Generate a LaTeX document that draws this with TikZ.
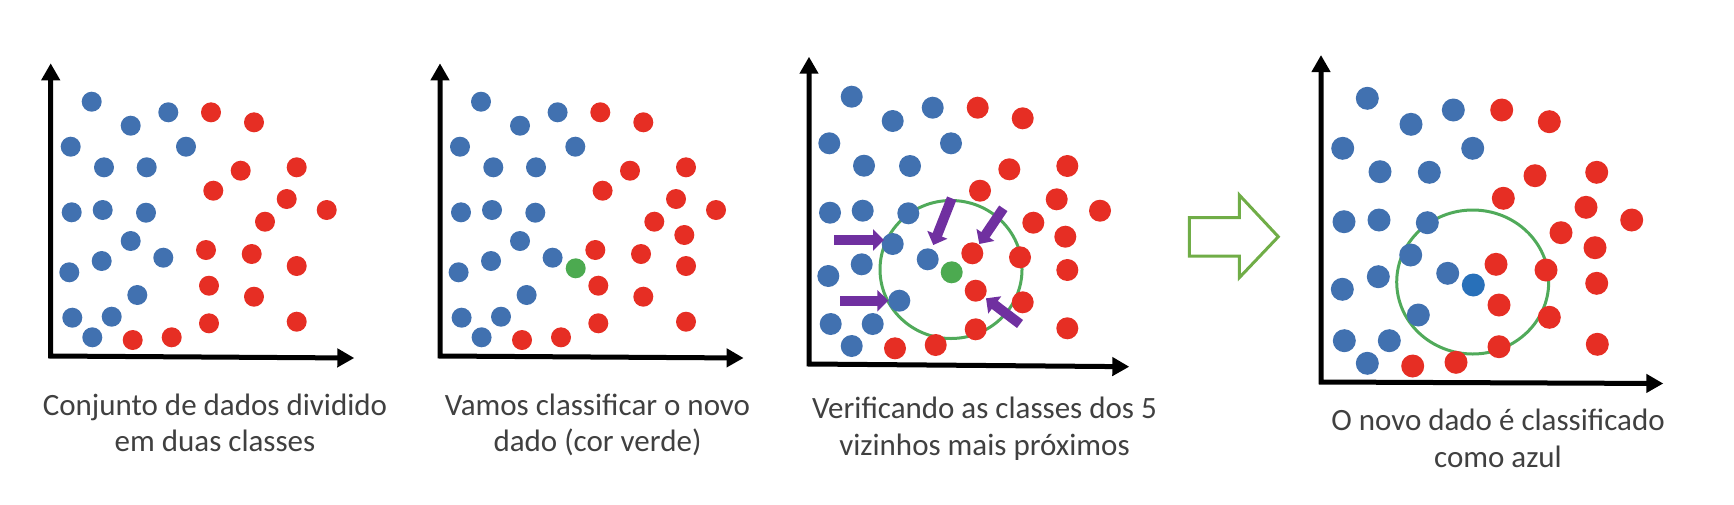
\documentclass[tikz,border=0pt]{standalone}
\usepackage{fontspec}
\setmainfont{Carlito}
\usetikzlibrary{arrows.meta}
\definecolor{dotblue}{RGB}{65,113,176}
\definecolor{dotred}{RGB}{230,46,36}
\definecolor{dotgreen}{RGB}{76,170,80}
\definecolor{newblue}{RGB}{40,112,185}
\definecolor{circgreen}{RGB}{80,170,90}
\definecolor{purp}{RGB}{112,48,160}
\definecolor{arrowgreen}{RGB}{112,173,71}
\definecolor{textgray}{RGB}{64,64,64}
\tikzset{
  axisline/.style={line width=5pt, line join=miter,
    {Triangle[width=18pt,length=17pt]}-{Triangle[width=18pt,length=17pt]}},
  nbarrow/.style={draw=purp, line width=10pt, -{Triangle[width=21pt,length=11pt]}},
  ring/.style={draw=circgreen, line width=3pt},
  caption/.style={text=textgray, align=center, anchor=base,
    font=\fontsize{31}{36.7}\selectfont, inner sep=0pt},
  bigarrow/.style={draw=arrowgreen, line width=3pt, line join=miter}
}
\def\blueA{91.7/101.7, 130.7/125.7, 168.3/112.3, 70.7/146.7, 186/146.7, 104/167.3, 146.7/167.3, 71.7/212.3, 102.7/210, 146/212.7, 130.7/241, 101.7/261, 163.3/257.7, 69.3/272.3, 137.3/295, 72.3/317.7, 111.7/316.7, 92.3/337.3}
\def\redA{211/112.3, 254/122.3, 240.7/170.7, 296.7/167.3, 213.3/190.7, 286.7/199, 326.7/210, 265/221.7, 206/250, 251.7/254, 296.7/266, 209/285.7, 254/296.7, 209/323.3, 296.7/321.7, 132.7/340, 171.7/337.3}
\def\blueC{851.7/96.7, 892.7/121, 932.7/107.7, 829.3/143.3, 951/143.3, 864/165.7, 910/166, 830/212.7, 862.7/210.7, 908.3/213.3, 892.7/244, 861.7/264.3, 927.7/259.3, 828.3/276, 899.3/300.7, 830.7/324, 872.7/324, 851.7/346}
\def\redC{977.7/107.7, 1022.7/118.3, 1009.3/169.3, 1067.3/166, 980/190.7, 1056.7/199.3, 1100/210.7, 1033.3/222.7, 1065.3/236.7, 972.3/253.3, 1020/257.3, 1067.3/270, 975.7/290.7, 1022.7/302.3, 975.7/329.3, 1067.3/328.3, 895/348.3, 935.7/345}
\def\blueD{1367.3/98.3, 1411/124.3, 1453.3/110, 1342.7/148.3, 1472.7/148.3, 1380/171.7, 1429.3/172.3, 1344/221.7, 1379/220, 1427.3/222.7, 1410.7/255, 1378.3/276.7, 1447.7/273.3, 1342.3/289.3, 1418.3/315, 1344.3/340.7, 1389.3/340.7, 1367.3/363.3}
\def\redD{1501.7/110, 1549.3/121.7, 1535/175.7, 1596.7/172.3, 1503.3/198.3, 1586/207.3, 1631.7/220, 1561/232.7, 1595/247.7, 1496/264.3, 1546/270, 1596.7/283.3, 1499/305, 1549.3/317.3, 1499/346.7, 1597.3/344.3, 1412.7/366, 1456/362.3}
\begin{document}
\begin{tikzpicture}[x=1pt, y=-1pt]
\useasboundingbox (0,0) rectangle (1734,504);
% ---------- panel 1
\draw[axisline] (50.7,63.3) -- (50.7,356) -- (354.3,358);
\foreach \x/\y in \blueA {\fill[dotblue] (\x,\y) circle[radius=10pt];}
\foreach \x/\y in \redA {\fill[dotred] (\x,\y) circle[radius=10pt];}
\node[caption] (cap1) at (215,451.7) {Conjunto de dados dividido\\em duas classes};
% ---------- panel 2
\begin{scope}[xshift=389.3pt]
\draw[axisline] (50.7,63.3) -- (50.7,356) -- (354.3,358);
\foreach \x/\y in \blueA {\fill[dotblue] (\x,\y) circle[radius=10pt];}
\foreach \x/\y in \redA {\fill[dotred] (\x,\y) circle[radius=10pt];}
\fill[dotred] (295,235) circle[radius=10pt];
\fill[dotgreen] (186.4,268.3) circle[radius=10pt];
\end{scope}
\node[caption] (cap2) at (597.5,451.7) {Vamos classificar o novo\\dado (cor verde)};
% ---------- panel 3
\draw[axisline] (809,56.7) -- (809,364) -- (1129.3,366.7);
\draw[ring] (951,269.5) ellipse[x radius=71pt, y radius=69pt];
\foreach \x/\y in \blueC {\fill[dotblue] (\x,\y) circle[radius=11pt];}
\foreach \x/\y in \redC {\fill[dotred] (\x,\y) circle[radius=11pt];}
\fill[dotgreen] (951.7,272.3) circle[radius=11pt];
\coordinate (a1s) at (834,240);    \coordinate (a1e) at (884,240);
\coordinate (a2s) at (840,300.7);  \coordinate (a2e) at (888.3,300.7);
\coordinate (a3s) at (951.7,198.3);\coordinate (a3e) at (933.3,245);
\coordinate (a4s) at (1003.3,208.3);\coordinate (a4e) at (979.3,244);
\coordinate (a5s) at (1020,324);   \coordinate (a5e) at (986,298.3);
\draw[nbarrow] (a1s) -- (a1e);
\draw[nbarrow] (a2s) -- (a2e);
\draw[nbarrow] (a3s) -- (a3e);
\draw[nbarrow] (a4s) -- (a4e);
\draw[nbarrow] (a5s) -- (a5e);
\node[caption] (cap3) at (984.5,455) {Verificando as classes dos 5\\vizinhos mais próximos};
% ---------- transition arrow
\draw[bigarrow] (1189.3,217.7) -- (1239.3,217.7) -- (1239.3,195) -- (1278.3,236.7)
  -- (1239.3,277.7) -- (1239.3,256) -- (1189.3,256) -- cycle;
% ---------- panel 4
\draw[axisline] (1321,55) -- (1321,382) -- (1663.3,383.5);
\draw[ring] (1472.7,282) ellipse[x radius=76pt, y radius=72pt];
\foreach \x/\y in \blueD {\fill[dotblue] (\x,\y) circle[radius=11.5pt];}
\foreach \x/\y in \redD {\fill[dotred] (\x,\y) circle[radius=11.5pt];}
\fill[newblue] (1473.3,285) circle[radius=11.5pt];
\node[caption] (cap4) at (1498,467.3) {O novo dado é classificado\\como azul};
\end{tikzpicture}
\end{document}
